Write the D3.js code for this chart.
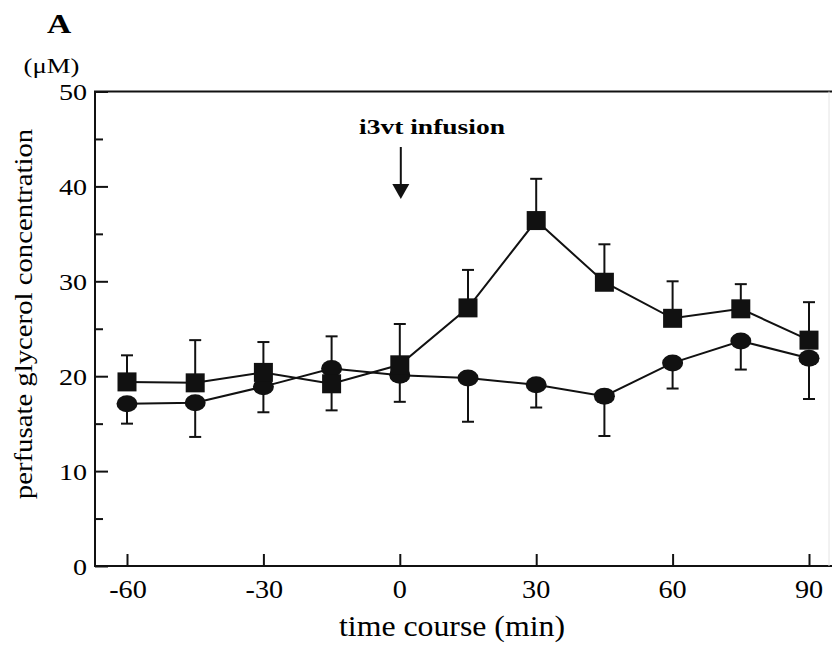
<!DOCTYPE html>
<html>
<head>
<meta charset="utf-8">
<script src="https://cdn.jsdelivr.net/npm/d3@7"></script>
<style>
  body { margin: 0; background: #fff; }
  svg text { font-family: "Liberation Serif", "Times New Roman", serif; fill: #000; }
</style>
</head>
<body>
<div id="chart"></div>
<script>
// time points (min)
var times = [-60, -45, -30, -15, 0, 15, 30, 45, 60, 75, 90];

// squares series
var squareMean = [19.4, 19.3, 20.4, 19.2, 21.2, 27.2, 36.4, 29.9, 26.1, 27.1, 23.8];
var squareSem  = [2.8, 4.5, 3.2, 2.8, 4.3, 4.0, 4.4, 4.0, 3.9, 2.6, 4.0];
var squareDir  = [1, 1, 1, -1, 1, 1, 1, 1, 1, 1, 1];   // 1 = bar drawn up, -1 = down

// circles series
var circleMean = [17.1, 17.2, 18.9, 20.8, 20.1, 19.8, 19.1, 17.9, 21.4, 23.7, 21.9];
var circleSem  = [2.1, 3.6, 2.7, 3.4, 2.8, 4.6, 2.4, 4.2, 2.7, 3.0, 4.3];
var circleDir  = [-1, -1, -1, 1, -1, -1, -1, -1, -1, -1, -1];

var xTicks = [-60, -30, 0, 30, 60, 90];
var yTicks = [0, 10, 20, 30, 40, 50];
var yMinorTicks = [5, 15, 25, 35, 45];

var W = 832, H = 645;
var plotLeft = 95, plotTop = 91.5, plotBottom = 566;

var xScale = d3.scaleLinear().domain([-60, 90]).range([127, 809]);
var yScale = d3.scaleLinear().domain([0, 50]).range([plotBottom, plotTop]);

var svg = d3.select("#chart").append("svg")
    .attr("width", W)
    .attr("height", H);

// the scanned type is a little wider than Liberation Serif, so stretch it
function label(x, y, str, size, sx, anchor, bold) {
  return svg.append("text")
      .attr("transform", "translate(" + x + "," + y + ") scale(" + sx + ",1)")
      .attr("text-anchor", anchor || "middle")
      .style("font-size", size + "px")
      .style("font-weight", bold ? "bold" : "normal")
      .text(str);
}

// frame: left, top, bottom
svg.append("path")
    .attr("d", "M" + W + "," + plotTop + "H" + plotLeft + "V" + plotBottom + "H" + W)
    .attr("fill", "none")
    .attr("stroke", "#111")
    .attr("stroke-width", 2);

// faint right edge
svg.append("line")
    .attr("x1", 829).attr("x2", 829)
    .attr("y1", plotTop).attr("y2", plotBottom)
    .attr("stroke", "#e4e4e4")
    .attr("stroke-width", 1);

// y axis ticks (inward)
var yAxis = svg.append("g")
    .attr("transform", "translate(" + plotLeft + ",0)")
    .call(d3.axisRight(yScale).tickValues(yTicks).tickSize(13).tickFormat(""));
yAxis.select(".domain").remove();
yAxis.selectAll("line").attr("stroke", "#111").attr("stroke-width", 2);

var yMinor = svg.append("g")
    .attr("transform", "translate(" + plotLeft + ",0)")
    .call(d3.axisRight(yScale).tickValues(yMinorTicks).tickSize(8).tickFormat(""));
yMinor.select(".domain").remove();
yMinor.selectAll("line").attr("stroke", "#111").attr("stroke-width", 2);

yTicks.forEach(function(d) {
  label(plotLeft - 8, yScale(d) + 8.5, d, 24, 1.17, "end");
});

// x axis ticks (inward / up)
var xAxis = svg.append("g")
    .attr("transform", "translate(0," + plotBottom + ")")
    .call(d3.axisTop(xScale).tickValues(xTicks).tickSize(12).tickFormat(""));
xAxis.select(".domain").remove();
xAxis.selectAll("line").attr("stroke", "#111").attr("stroke-width", 2);

xTicks.forEach(function(d) {
  label(xScale(d) + (d < 0 ? 1 : 0), 598, d, 25, 1.13);
});

// axis titles
label(452, 636, "time course (min)", 30, 1.06);

svg.append("text")
    .attr("transform", "translate(32,314) rotate(-90) scale(1.15,1)")
    .attr("text-anchor", "middle")
    .style("font-size", "25px")
    .text("perfusate glycerol concentration");

label(59, 33, "A", 28, 1.2, "middle", true);
label(51.5, 73, "(μM)", 21, 1.27);

// infusion annotation
label(432, 134, "i3vt infusion", 21, 1.31, "middle", true);

svg.append("line")
    .attr("x1", xScale(0) + 1).attr("x2", xScale(0) + 1)
    .attr("y1", 147).attr("y2", 188)
    .attr("stroke", "#111")
    .attr("stroke-width", 2);
svg.append("path")
    .attr("d", "M" + (xScale(0) - 7.5) + ",184L" + (xScale(0) + 9.5) + ",184L" + (xScale(0) + 1) + ",199Z")
    .attr("fill", "#111");

function drawSeries(means, sems, dirs, shape) {
  var pts = times.map(function(t, i) {
    return {t: t, m: means[i], e: means[i] + dirs[i] * sems[i]};
  });
  var line = d3.line()
      .x(function(d) { return xScale(d.t); })
      .y(function(d) { return yScale(d.m); });
  svg.append("path")
      .datum(pts)
      .attr("d", line)
      .attr("fill", "none")
      .attr("stroke", "#111")
      .attr("stroke-width", 2);

  var err = svg.append("g").selectAll("g")
      .data(pts)
      .enter().append("g")
      .attr("stroke", "#111")
      .attr("stroke-width", 2);
  err.append("line")
      .attr("x1", function(d) { return xScale(d.t); })
      .attr("x2", function(d) { return xScale(d.t); })
      .attr("y1", function(d) { return yScale(d.m); })
      .attr("y2", function(d) { return yScale(d.e); });
  err.append("line")
      .attr("x1", function(d) { return xScale(d.t) - 6; })
      .attr("x2", function(d) { return xScale(d.t) + 6; })
      .attr("y1", function(d) { return yScale(d.e); })
      .attr("y2", function(d) { return yScale(d.e); });

  if (shape === "square") {
    svg.append("g").selectAll("rect")
        .data(pts)
        .enter().append("rect")
        .attr("x", function(d) { return xScale(d.t) - 9.5; })
        .attr("y", function(d) { return yScale(d.m) - 9.5; })
        .attr("width", 19)
        .attr("height", 19)
        .attr("fill", "#111");
  } else {
    svg.append("g").selectAll("ellipse")
        .data(pts)
        .enter().append("ellipse")
        .attr("cx", function(d) { return xScale(d.t); })
        .attr("cy", function(d) { return yScale(d.m); })
        .attr("rx", 10.5)
        .attr("ry", 8.5)
        .attr("fill", "#111");
  }
}

drawSeries(circleMean, circleSem, circleDir, "circle");
drawSeries(squareMean, squareSem, squareDir, "square");
</script>
</body>
</html>
